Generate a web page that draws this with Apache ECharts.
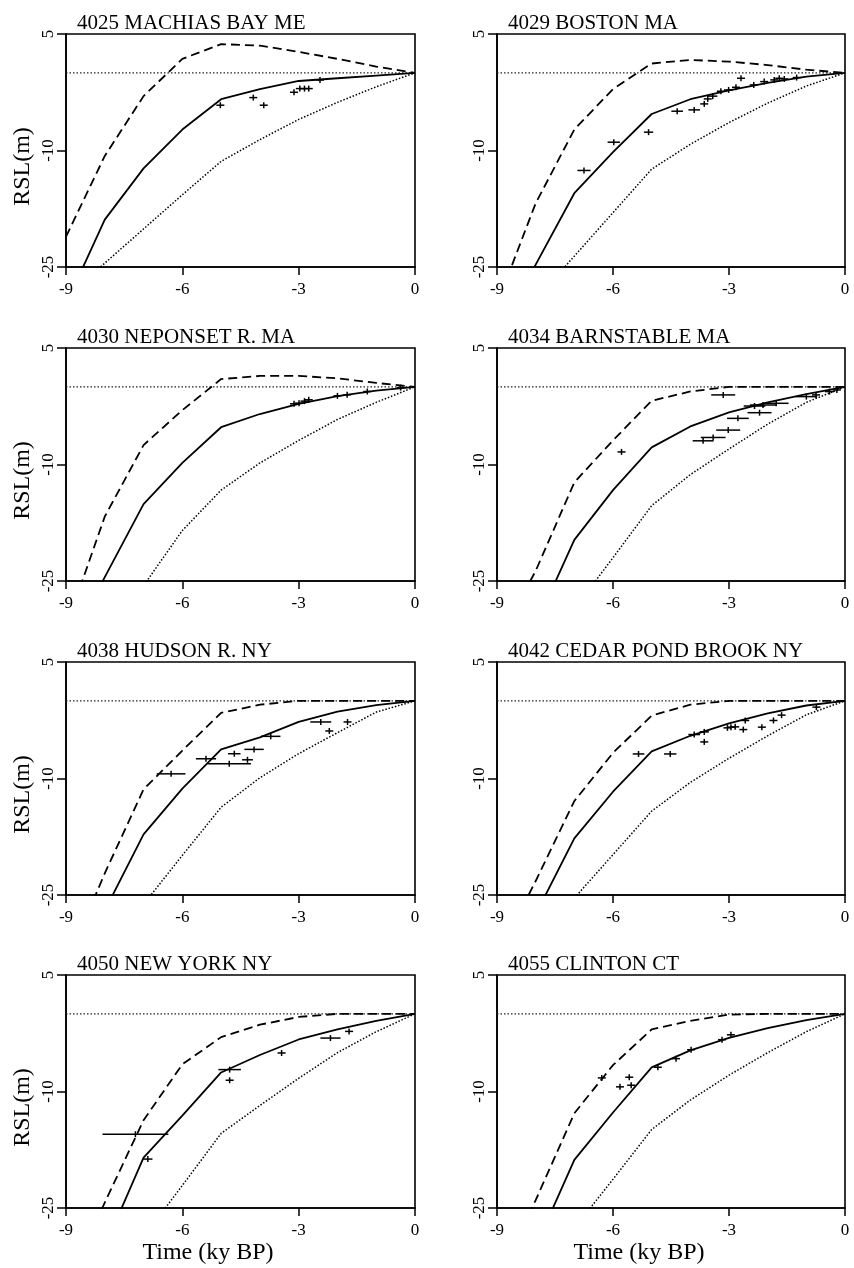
<!DOCTYPE html>
<html>
<head>
<meta charset="utf-8">
<script src="https://cdn.jsdelivr.net/npm/echarts@6/dist/echarts.min.js"></script>
<style>
html,body{margin:0;padding:0;background:#fff;}
#chart{width:854px;height:1268px;}
</style>
</head>
<body>
<div id="chart"></div>
<script>
// ---------- data ----------
const titles = ['4025 MACHIAS BAY ME', '4029 BOSTON MA', '4030 NEPONSET R. MA', '4034 BARNSTABLE MA',
  '4038 HUDSON R. NY', '4042 CEDAR POND BROOK NY', '4050 NEW YORK NY', '4055 CLINTON CT'];
const xTicks = [-9, -6, -3, 0];
const yTicks = [-25, -10, 5];
const modelTimes = [-9, -8, -7, -6, -5, -4, -3, -2, -1, 0];

// model curves (RSL, m) at modelTimes
const machiasDashed = [-21.1, -10.7, -3.0, 1.8, 3.7, 3.5, 2.7, 1.8, 0.8, 0];
const machiasSolid  = [-29.8, -18.9, -12.3, -7.3, -3.4, -2.1, -1.05, -0.7, -0.35, 0];
const machiasDotted = [-28.9, -24.5, -20.1, -15.7, -11.4, -8.6, -6.0, -3.8, -1.8, 0];

const bostonDashed = [-29.8, -16.8, -7.3, -2.1, 1.2, 1.65, 1.45, 1.0, 0.4, 0];
const bostonSolid  = [-33, -24.7, -15.5, -10.2, -5.3, -3.4, -2.25, -1.3, -0.5, 0];
const bostonDotted = [-34.8, -29.2, -23.6, -18.0, -12.4, -9.2, -6.4, -3.9, -1.7, 0];

const neponsetDashed = [-31, -16.7, -7.5, -3.0, 1.0, 1.4, 1.4, 1.1, 0.5, 0];
const neponsetSolid  = [-34, -24.5, -15.1, -9.8, -5.2, -3.5, -2.2, -1.2, -0.5, 0];
const neponsetDotted = [-37, -31.5, -25.6, -18.5, -13.3, -9.8, -6.9, -4.2, -2.0, 0];

const barnstableDashed = [-33, -23.7, -12.3, -6.9, -1.8, -0.6, 0, 0, 0, 0];
const barnstableSolid  = [-40, -30.7, -19.7, -13.3, -7.8, -5.1, -3.3, -2.0, -0.95, 0];
const barnstableDotted = [-41, -35, -28.6, -22.0, -15.3, -11.3, -8.0, -4.8, -2.0, 0];

const hudsonDashed = [-34, -22.2, -11.4, -6.4, -1.55, -0.5, 0, 0, 0, 0];
const hudsonSolid  = [-38, -27, -17.2, -11.3, -6.25, -4.7, -2.7, -1.4, -0.55, 0];
const hudsonDotted = [-39, -32.5, -26.2, -19.9, -13.7, -9.9, -6.8, -4.1, -1.45, 0];

const cedarDashed = [-33, -23.2, -12.9, -6.7, -1.9, -0.5, 0, 0, 0, 0];
const cedarSolid  = [-38, -27.5, -17.7, -11.7, -6.5, -4.5, -2.9, -1.6, -0.6, 0];
const cedarDotted = [-37, -31, -25.4, -19.8, -14.2, -10.5, -7.4, -4.5, -1.8, 0];

const newyorkDashed = [-35, -24.3, -13.7, -6.5, -3.0, -1.4, -0.4, 0, 0, 0];
const newyorkSolid  = [-41, -30, -18.5, -13.1, -7.55, -5.3, -3.3, -2.0, -0.9, 0];
const newyorkDotted = [-42, -35, -28.7, -22.1, -15.4, -11.8, -8.3, -5.0, -2.3, 0];

const clintonDashed = [-34, -24, -12.8, -6.6, -2.0, -0.9, -0.1, 0, 0, 0];
const clintonSolid  = [-41, -30, -18.8, -12.7, -6.9, -4.7, -3.1, -1.85, -0.8, 0];
const clintonDotted = [-40, -34, -27.6, -21.3, -14.9, -11.1, -7.9, -5.0, -2.3, 0];

// observations: [time (ky BP), RSL (m), half-width of age range (ky)]
const machiasObs = [[-5.02,-4.17,0.1],[-4.17,-3.19,0.1],[-3.9,-4.17,0.08],[-3.12,-2.5,0.1],[-2.97,-2.03,0.08],[-2.85,-2.03,0.08],[-2.74,-2.03,0.08],[-2.45,-0.92,0.1]];
const bostonObs = [[-6.75,-12.57,0.17],[-5.98,-8.93,0.16],[-5.08,-7.64,0.12],[-4.34,-4.94,0.15],[-3.9,-4.77,0.15],[-3.64,-4.0,0.1],[-3.55,-3.36,0.1],[-3.42,-3.0,0.12],[-3.21,-2.37,0.1],[-3.01,-2.2,0.12],[-2.82,-1.86,0.1],[-2.69,-0.7,0.1],[-2.36,-1.56,0.1],[-2.09,-1.13,0.1],[-1.83,-0.91,0.1],[-1.7,-0.7,0.1],[-1.57,-0.79,0.1],[-1.25,-0.61,0.1]];
const neponsetObs = [[-3.12,-2.19,0.1],[-2.99,-2.1,0.1],[-2.85,-1.84,0.1],[-2.74,-1.67,0.1],[-2.0,-1.16,0.1],[-1.75,-1.03,0.1],[-1.23,-0.6,0.1],[-0.37,-0.1,0.1]];
const barnstableObs = [[-5.78,-8.38,0.1],[-3.15,-1.04,0.31],[-3.67,-6.95,0.27],[-3.41,-6.52,0.32],[-3.02,-5.57,0.31],[-2.77,-4.06,0.28],[-2.21,-3.33,0.31],[-2.34,-2.47,0.28],[-2.12,-2.34,0.34],[-1.78,-2.12,0.32],[-1.0,-1.26,0.28],[-0.75,-1.04,0.1],[-0.4,-0.61,0.12],[-0.21,-0.4,0.1]];
const hudsonObs = [[-6.29,-9.4,0.37],[-5.39,-7.46,0.26],[-4.79,-8.1,0.56],[-4.66,-6.81,0.16],[-4.32,-7.59,0.14],[-4.15,-6.25,0.25],[-3.72,-4.57,0.25],[-2.43,-2.72,0.27],[-2.21,-3.88,0.1],[-1.74,-2.72,0.1]];
const cedarObs = [[-5.34,-6.84,0.15],[-4.52,-6.84,0.16],[-3.9,-4.34,0.15],[-3.64,-4.0,0.12],[-3.64,-5.29,0.1],[-3.04,-3.48,0.1],[-2.95,-3.39,0.1],[-2.84,-3.35,0.1],[-2.63,-3.7,0.1],[-2.58,-2.53,0.1],[-2.15,-3.39,0.1],[-1.85,-2.53,0.1],[-1.64,-1.84,0.1],[-0.74,-0.81,0.1]];
const newyorkObs = [[-7.21,-15.5,0.85],[-6.89,-18.7,0.12],[-4.78,-7.18,0.29],[-4.78,-8.55,0.1],[-3.44,-5.04,0.1],[-2.18,-3.12,0.26],[-1.7,-2.26,0.08]];
const clintonObs = [[-6.29,-8.25,0.08],[-5.82,-9.4,0.08],[-5.58,-8.16,0.08],[-5.53,-9.19,0.08],[-4.84,-6.88,0.08],[-4.37,-5.77,0.08],[-3.98,-4.62,0.08],[-3.18,-3.33,0.08],[-2.95,-2.7,0.08]];
const zeroLine = [[-9, 0], [0, 0]];

// ---------- layout ----------
const panels = [
  [machiasDashed, machiasSolid, machiasDotted, machiasObs],
  [bostonDashed, bostonSolid, bostonDotted, bostonObs],
  [neponsetDashed, neponsetSolid, neponsetDotted, neponsetObs],
  [barnstableDashed, barnstableSolid, barnstableDotted, barnstableObs],
  [hudsonDashed, hudsonSolid, hudsonDotted, hudsonObs],
  [cedarDashed, cedarSolid, cedarDotted, cedarObs],
  [newyorkDashed, newyorkSolid, newyorkDotted, newyorkObs],
  [clintonDashed, clintonSolid, clintonDotted, clintonObs]
];
const colLeft = [66, 497];
const colWidth = [349, 348];
const rowTop = [34, 348, 662, 975];
const plotH = 233;
const FONT = '"Liberation Serif", "Times New Roman", serif';

const grids = [], xAxes = [], yAxes = [], series = [], graphics = [];
const pair = arr => arr.map((v, i) => [modelTimes[i], v]);

panels.forEach((p, i) => {
  const r = Math.floor(i / 2), c = i % 2;
  grids.push({left: colLeft[c], top: rowTop[r], width: colWidth[c], height: plotH,
    show: true, borderColor: '#000', borderWidth: 1.6, backgroundColor: 'transparent'});
  xAxes.push({type: 'value', gridIndex: i, min: -9, max: 0, interval: 3, position: 'bottom',
    axisLine: {show: true, onZero: false, lineStyle: {color: '#000', width: 1.6}},
    axisTick: {show: true, inside: false, length: 8, customValues: xTicks, lineStyle: {color: '#000', width: 1.5}},
    axisLabel: {show: true, customValues: xTicks, margin: 14, color: '#000', fontFamily: FONT, fontSize: 17},
    splitLine: {show: false}});
  yAxes.push({type: 'value', gridIndex: i, min: -25, max: 5, position: 'left',
    axisLine: {show: true, onZero: false, lineStyle: {color: '#000', width: 1.6}},
    axisTick: {show: true, inside: false, length: 9, customValues: yTicks, lineStyle: {color: '#000', width: 1.5}},
    axisLabel: {show: true, customValues: yTicks, rotate: 90, margin: 9, color: '#000', fontFamily: FONT, fontSize: 17},
    splitLine: {show: false}});
  const common = {type: 'line', xAxisIndex: i, yAxisIndex: i, showSymbol: false, symbol: 'none', silent: true, animation: false, clip: true};
  series.push(Object.assign({}, common, {data: zeroLine, lineStyle: {color: '#222', width: 1.2, type: [1.5, 2]}}));
  series.push(Object.assign({}, common, {data: pair(p[2]), lineStyle: {color: '#000', width: 1.5, type: [1.5, 1.8]}}));
  series.push(Object.assign({}, common, {data: pair(p[0]), lineStyle: {color: '#000', width: 1.8, type: [9, 5]}}));
  series.push(Object.assign({}, common, {data: pair(p[1]), lineStyle: {color: '#000', width: 1.8, type: 'solid'}}));
  series.push({type: 'custom', xAxisIndex: i, yAxisIndex: i, silent: true, animation: false,
    data: p[3].map(d => [d[0], d[1], d[0] - d[2], d[0] + d[2]]),
    renderItem: function (params, api) {
      const c0 = api.coord([api.value(0), api.value(1)]);
      const lo = api.coord([api.value(2), api.value(1)]);
      const hi = api.coord([api.value(3), api.value(1)]);
      const x1 = Math.min(lo[0], c0[0] - 4), x2 = Math.max(hi[0], c0[0] + 4);
      const st = {stroke: '#000', lineWidth: 1.5};
      return {type: 'group', children: [
        {type: 'line', shape: {x1: x1, y1: c0[1], x2: x2, y2: c0[1]}, style: st},
        {type: 'line', shape: {x1: c0[0], y1: c0[1] - 3, x2: c0[0], y2: c0[1] + 3}, style: st}
      ]};
    }});
  graphics.push({type: 'text', x: c === 0 ? 77 : 508, y: rowTop[r] - 11,
    style: {text: titles[i], fontFamily: FONT, fontSize: 21, fill: '#000', textVerticalAlign: 'middle', textAlign: 'left'}});
  if (c === 0) {
    graphics.push({type: 'text', x: 23, y: rowTop[r] + plotH / 2 + 16, rotation: Math.PI / 2,
      style: {text: 'RSL(m)', fontFamily: FONT, fontSize: 24, fill: '#000', textAlign: 'center', textVerticalAlign: 'middle'}});
  }
});
graphics.push({type: 'text', x: 208, y: 1253,
  style: {text: 'Time (ky BP)', fontFamily: FONT, fontSize: 24, fill: '#000', textAlign: 'center', textVerticalAlign: 'middle'}});
graphics.push({type: 'text', x: 639, y: 1253,
  style: {text: 'Time (ky BP)', fontFamily: FONT, fontSize: 24, fill: '#000', textAlign: 'center', textVerticalAlign: 'middle'}});

const chart = echarts.init(document.getElementById('chart'), null, {renderer: 'canvas', width: 854, height: 1268});
chart.setOption({
  backgroundColor: '#fff',
  animation: false,
  grid: grids, xAxis: xAxes, yAxis: yAxes, series: series, graphic: graphics
});
</script>
</body>
</html>
